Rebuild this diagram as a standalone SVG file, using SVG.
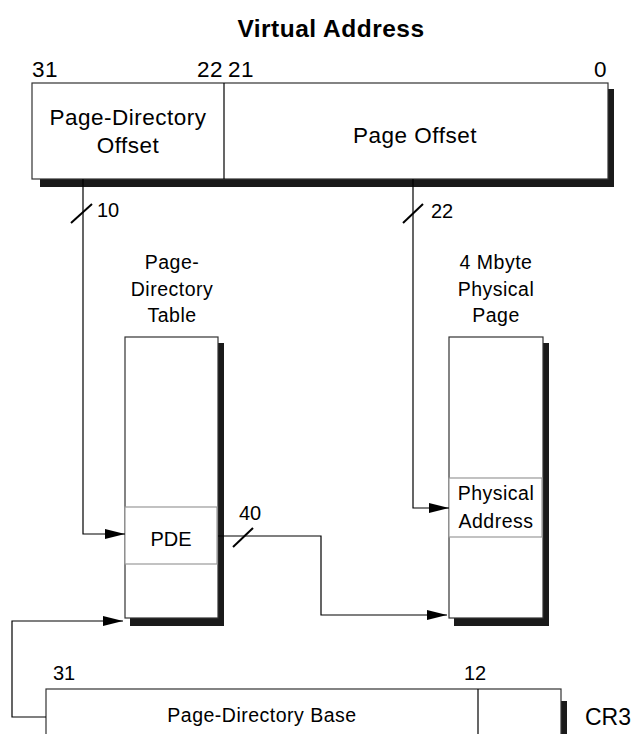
<svg xmlns="http://www.w3.org/2000/svg" width="639" height="734" viewBox="0 0 639 734">
<defs>
<style>
text{font-family:"Liberation Sans",Arial,sans-serif;fill:#000;letter-spacing:0.5px}
.big{font-size:22.5px}
.mid{font-size:19.5px}
.num{font-size:20px;letter-spacing:0}
.title{font-size:24.5px;font-weight:bold}
.box{fill:#fff;stroke:#333;stroke-width:1.2}
.sub{fill:#fff;stroke:#999;stroke-width:1.2}
.sh{fill:#1a1a1a}
.ln{fill:none;stroke:#000;stroke-width:1.2}
.sl{stroke:#000;stroke-width:2}
</style>
<marker id="ah" markerUnits="userSpaceOnUse" markerWidth="20" markerHeight="10" refX="20" refY="5" orient="auto">
<path d="M0,0 L20,5 L0,10 z" fill="#000"/>
</marker>
</defs>
<rect width="639" height="734" fill="#fff"/>
<text class="title" x="331" y="37" text-anchor="middle">Virtual Address</text>

<g id="virtual-address">
<rect class="sh" x="40" y="89" width="574" height="98"/>
<rect class="box" x="32" y="83" width="576" height="96"/>
<line class="ln" x1="224" y1="83" x2="224" y2="179"/>
<text class="big" x="32" y="77">31</text>
<text class="big" x="223" y="77" text-anchor="end">22</text>
<text class="big" x="228" y="77">21</text>
<text class="big" x="607" y="77" text-anchor="end">0</text>
<text class="big" x="128" y="125" text-anchor="middle">Page-Directory</text>
<text class="big" x="128" y="153" text-anchor="middle">Offset</text>
<text class="big" x="415" y="143" text-anchor="middle">Page Offset</text>
</g>

<g id="page-directory-table">
<text class="mid" x="172" y="269" text-anchor="middle">Page-</text>
<text class="mid" x="172" y="296" text-anchor="middle">Directory</text>
<text class="mid" x="172" y="322" text-anchor="middle">Table</text>
<rect class="sh" x="130" y="343" width="94" height="283"/>
<rect class="box" x="125" y="337" width="93" height="281"/>
</g>

<g id="pde">
<rect class="sub" x="125" y="507" width="92" height="57"/>
<text class="num" x="171" y="546" text-anchor="middle">PDE</text>
</g>

<g id="physical-page">
<text class="mid" x="496" y="269" text-anchor="middle">4 Mbyte</text>
<text class="mid" x="496" y="296" text-anchor="middle">Physical</text>
<text class="mid" x="496" y="322" text-anchor="middle">Page</text>
<rect class="sh" x="454" y="343" width="95" height="283"/>
<rect class="box" x="449" y="337" width="94" height="281"/>
</g>

<g id="physical-address">
<rect class="sub" x="449" y="478" width="93" height="59"/>
<text class="mid" x="496" y="500" text-anchor="middle">Physical</text>
<text class="mid" x="496" y="528" text-anchor="middle">Address</text>
</g>

<g id="cr3">
<rect class="sh" x="561" y="701" width="6" height="40"/>
<rect class="box" x="46" y="689" width="515" height="60"/>
<line class="ln" x1="478" y1="689" x2="478" y2="734"/>
<text class="num" x="53" y="680">31</text>
<text class="num" x="464" y="680">12</text>
<text class="mid" x="262" y="722" text-anchor="middle">Page-Directory Base</text>
<text style="font-size:23px;letter-spacing:0" x="585" y="725">CR3</text>
</g>

<g id="connectors">
<path class="ln" d="M83,179 V534 H125" marker-end="url(#ah)"/>
<path class="ln" d="M413,179 V508 H449" marker-end="url(#ah)"/>
<path class="ln" d="M218,536 H321 V615 H447" marker-end="url(#ah)"/>
<path class="ln" d="M46,717 H12 V621 H123" marker-end="url(#ah)"/>
<line class="sl" x1="71" y1="223" x2="92" y2="204"/>
<line class="sl" x1="403" y1="223" x2="423" y2="204"/>
<line class="sl" x1="233" y1="547" x2="253" y2="528"/>
<text class="num" x="97" y="217">10</text>
<text class="num" x="431" y="218">22</text>
<text class="num" x="239" y="520">40</text>
</g>
</svg>
